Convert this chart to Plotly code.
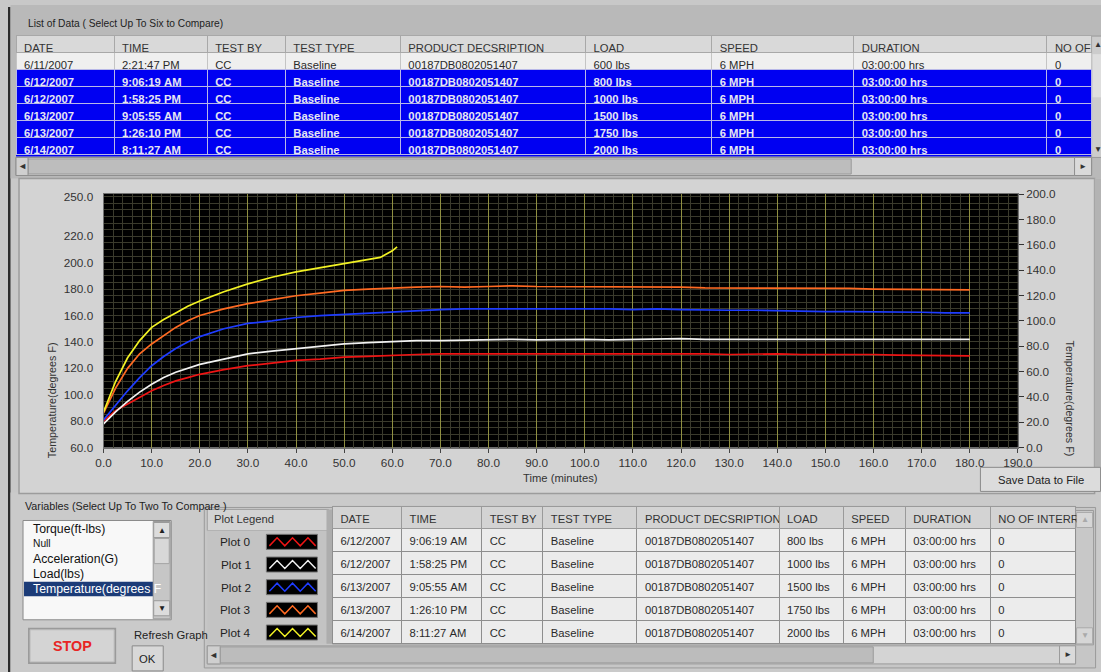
import plotly.graph_objects as go

W, H = 1101, 672          # reference picture size
S, O = 0.978, 8.0         # observed page->picture scale and offset of the photographing step
FW, FH = round((W - O) / S), round((H - O) / S)
FONT = "Liberation Sans, Arial, sans-serif"
NB = "\u00a0"

# ---------------- data ----------------
time_min = [0, 2.5, 5, 7.5, 10, 12.5, 15, 17.5, 20, 25, 30, 35, 40, 45, 50, 55, 60,
            65, 70, 75, 80, 85, 90, 95, 100, 105, 110, 115, 120, 125, 130, 135, 140,
            145, 150, 155, 160, 165, 170, 175, 180]
plot0_800lbs = [80, 88, 93, 98, 103, 107, 110.5, 113, 115.5, 119, 122, 124, 126, 127, 128.5,
                129, 130, 130.5, 131, 131, 131.5, 131, 131.5, 131, 131.5, 131, 131, 131.5, 131,
                131, 130.5, 131, 131, 130.5, 130.5, 131, 130.5, 130, 130, 130, 129.5]
plot1_1000lbs = [78, 87, 95, 102, 108, 113, 117, 120, 123, 127, 131, 133, 135, 137, 138.5,
                 139.5, 140.5, 141, 141, 141.5, 141.5, 142, 141.5, 142, 142, 141.5, 142, 142,
                 142.5, 142, 142, 142.5, 142, 142, 142.5, 142, 142, 142.5, 142, 142, 142]
plot2_1500lbs = [81, 92, 103, 113, 122, 129, 135, 140, 144, 150, 154, 156, 158.5, 160, 161,
                 162, 163, 164, 164.5, 165, 165, 165.5, 165, 165.5, 165, 165, 164.5, 165, 164.5,
                 164, 164, 164, 163.5, 163.5, 163, 163, 163, 162.5, 162.5, 162, 162]
plot3_1750lbs = [86, 105, 120, 131, 138.5, 145, 151, 156, 160, 165, 169, 172, 175, 177, 179,
                 180, 181, 181.5, 182, 181.5, 182, 182.5, 182, 182, 182, 181.5, 182, 181.5,
                 181.5, 181, 181, 181, 180.5, 181, 180.5, 180.5, 180, 180, 180, 179.5, 179.5]
time_plot4 = [0, 2.5, 5, 7.5, 10, 12.5, 15, 17.5, 20, 25, 30, 35, 40, 45, 50, 55, 57.5, 60, 61]
plot4_2000lbs = [87, 110, 128, 141, 151, 157, 162, 167, 171, 178, 184, 189, 193, 196, 199.5,
                 202, 204, 209, 212]

plot_names = ["Plot 0", "Plot 1", "Plot 2", "Plot 3", "Plot 4"]
plot_colors = ["#ee1414", "#f2f2f2", "#1e3cff", "#ff6a22", "#f2f224"]

x_ticks_step = 10
left_ticks = [60, 80, 100, 120, 140, 160, 180, 200, 220, 250]
right_ticks_step = 20

top_headers = ["DATE", "TIME", "TEST BY", "TEST TYPE", "PRODUCT DECSRIPTION", "LOAD",
               "SPEED", "DURATION", "NO OF"]
rec_dates = ["6/11/2007", "6/12/2007", "6/12/2007", "6/13/2007", "6/13/2007", "6/14/2007"]
rec_times = ["2:21:47 PM", "9:06:19 AM", "1:58:25 PM", "9:05:55 AM", "1:26:10 PM", "8:11:27 AM"]
rec_testby = ["CC", "CC", "CC", "CC", "CC", "CC"]
rec_testtype = ["Baseline"] * 6
rec_product = ["00187DB0802051407"] * 6
rec_load = ["600 lbs", "800 lbs", "1000 lbs", "1500 lbs", "1750 lbs", "2000 lbs"]
rec_speed = ["6 MPH"] * 6
rec_duration = ["03:00:00 hrs"] * 6
rec_interr = ["0"] * 6
selected_rows = [False, True, True, True, True, True]

bottom_headers = ["DATE", "TIME", "TEST BY", "TEST TYPE", "PRODUCT DECSRIPTION", "LOAD",
                  "SPEED", "DURATION", "NO OF INTERR"]
variables = ["Torque(ft-lbs)", "Null", "Acceleration(G)", "Load(lbs)", "Temperature(degrees F"]


# ---------------- helpers (picture px -> paper fraction) ----------------
def X(px):
    return ((px - O) / S) / FW


def Y(py):
    return 1 - ((py - O) / S) / FH


def F(size):
    return round(size / S, 2)


def nb(s):
    return s.replace(" ", NB)


shapes = []
annotations = []


def rect(x0, y0, x1, y1, fill, line=None, lw=1, layer="below"):
    shapes.append(dict(type="rect", xref="paper", yref="paper",
                       x0=X(x0), x1=X(x1), y0=Y(y1), y1=Y(y0),
                       fillcolor=fill, layer=layer,
                       line=dict(color=line if line else fill, width=lw if line else 0)))


def txt(x, y, s, size=11, color="#222", xa="left", ya="middle", angle=0, weight="normal"):
    annotations.append(dict(x=X(x), y=Y(y), xref="paper", yref="paper", text=s,
                            showarrow=False, xanchor=xa, yanchor=ya, textangle=angle,
                            font=dict(family=FONT, size=F(size), color=color, weight=weight)))


# ---------------- panel backgrounds ----------------
rect(8, 8, 10.5, H, "#2c2c2c")
rect(10.5, 6, W, 179, "#b9b9b9")
rect(10.5, 492, W, H, "#cacaca")
rect(19, 179, 1093, 493, "#d3d3d3", line="#9c9c9c", lw=1.5)
rect(1093, 179, W, 467, "#b3b3b3")

txt(26, 24, "List of Data ( Select Up To Six to Compare)", size=10, color="#222")

# top table backing + scrollbars
rect(16, 36, 1090, 157, "#0000f2")
rect(16, 36, 1090, 70, "#efefef")
rect(16, 158, 1090, 176, "#d2d2d2", line="#8e8e8e")
rect(28, 159.5, 850, 174.5, "#bdbdbd", line="#9a9a9a")
rect(16, 158, 28, 176, "#cfcfcf", line="#8e8e8e")
txt(22, 167, "◄", size=9, color="#333", xa="center")
rect(1073, 158, 1090, 176, "#dadada", line="#8e8e8e")
txt(1081.5, 167, "►", size=8, color="#333", xa="center")
rect(1090, 37, W, 158, "#cccccc", line="#9a9a9a")
rect(1091, 55, W, 98, "#dedede")
txt(1096, 45, "▲", size=8, color="#333", xa="center")
txt(1096, 150, "▼", size=8, color="#333", xa="center")

# chart area titles
txt(52, 400, "Temperature(degrees F)", size=10.5, color="#333", xa="center", angle=-90)
txt(1068, 398, "Temperature(degrees F)", size=10.5, color="#333", xa="center", angle=90)
txt(560, 478, "Time (minutes)", size=11, color="#333", xa="center")

# black plot background (above panel shape)
shapes.append(dict(type="rect", xref="x domain", yref="y domain", x0=0, x1=1, y0=0, y1=1,
                   fillcolor="#000000", line=dict(width=0), layer="below"))

# Save button
rect(979, 467, 1099, 491, "#dcdcdc", line="#8a8a8a")
txt(1039, 479.5, "Save Data to File", size=11, color="#222", xa="center")

# variables list box
txt(23, 506, "Variables (Select Up To Two To Compare )", size=10.5, color="#222")
rect(23, 520, 171, 619, "#f8f8f8", line="#8a8a8a")
var_y = [528, 543, 558, 573, 588]
rect(24, 581, 153, 595.5, "#1c3c78")
for i, v in enumerate(variables):
    sel = i == len(variables) - 1
    txt(31, var_y[i], v, size=10 if v == "Null" else 12,
        color="#ffffff" if sel else "#111")
rect(153, 521, 170, 618, "#c6c6c6", line="#9a9a9a")
rect(153.5, 522, 169.5, 537, "#dcdcdc", line="#9a9a9a")
txt(161.5, 529.5, "▲", size=8, color="#222", xa="center")
rect(154, 538, 169, 563, "#d8d8d8", line="#a4a4a4")
rect(153.5, 600, 169.5, 615, "#dcdcdc", line="#9a9a9a")
txt(161.5, 607.5, "▼", size=8, color="#222", xa="center")

# STOP and OK buttons
rect(28, 627, 116, 663, "#9a9a9a")
rect(30, 629, 114, 661, "#d4d4d4", line="#bcbcbc")
txt(72, 645.5, "STOP", size=14, color="#e82424", xa="center", weight="bold")
txt(132, 634, "Refresh Graph", size=11, color="#222")
rect(132, 645, 163, 670, "#d8d8d8", line="#8a8a8a")
txt(147.5, 658, "OK", size=11, color="#222", xa="center")

# bottom table frame + legend column
BT_TOP, BT_HDR, BT_ROW = 509, 21, 22.6
rect(204, 507, 1094, 667, "#c6c6c6", line="#9a9a9a")
rect(332, 506, 1074, 643, "#ececec", line="#8e8e8e")
rect(207, BT_TOP, 328, BT_TOP + BT_HDR, "#d3d3d3", line="#a0a0a0")
txt(212, BT_TOP + BT_HDR / 2 - 1, "Plot Legend", size=11, color="#333")
rect(207, BT_TOP + BT_HDR, 328, BT_TOP + BT_HDR + 5 * BT_ROW, "#c3c3c3")
rect(326, BT_TOP, 332, BT_TOP + BT_HDR + 5 * BT_ROW, "#adadad")
for i, (name, col) in enumerate(zip(plot_names, plot_colors)):
    cy = BT_TOP + BT_HDR + BT_ROW * i + BT_ROW / 2
    txt(253, cy, name, size=11.5, color="#222", xa="right")
    rect(266, cy - 7.5, 317, cy + 7.5, "#000000", line="#777777")
    xs = [269 + 7.7 * k for k in range(7)]
    pts = " L ".join(f"{X(xx):.5f},{Y(cy + (4 if k % 2 == 0 else -4)):.5f}"
                     for k, xx in enumerate(xs))
    shapes.append(dict(type="path", xref="paper", yref="paper", path="M " + pts,
                       line=dict(color=col, width=1.5), layer="below"))

# bottom table scrollbars
rect(207, 645, 1074, 663, "#d4d4d4", line="#9a9a9a")
rect(207, 645, 220, 663, "#cfcfcf", line="#9a9a9a")
txt(213.5, 654, "◄", size=9, color="#333", xa="center")
rect(220, 646, 872, 662, "#bcbcbc", line="#9a9a9a")
rect(1058, 645, 1074, 663, "#dadada", line="#9a9a9a")
txt(1066, 654, "►", size=8, color="#333", xa="center")
rect(1074, 510, 1092, 644, "#c8c8c8", line="#9a9a9a")
rect(1075, 512, 1091, 527, "#d6d6d6", line="#aaaaaa")
txt(1083, 519.5, "▲", size=8, color="#aaaaaa", xa="center")
rect(1075, 627, 1091, 643, "#d6d6d6", line="#aaaaaa")
txt(1083, 635, "▼", size=8, color="#aaaaaa", xa="center")

# ---------------- traces ----------------
fig = go.Figure()

series = [(time_min, plot0_800lbs), (time_min, plot1_1000lbs), (time_min, plot2_1500lbs),
          (time_min, plot3_1750lbs), (time_plot4, plot4_2000lbs)]
for (tx, ty), name, col in zip(series, plot_names, plot_colors):
    fig.add_trace(go.Scatter(x=tx, y=ty, mode="lines", name=name,
                             line=dict(color=col, width=1.7), showlegend=False,
                             hoverinfo="skip", xaxis="x", yaxis="y"))

fig.add_trace(go.Scatter(x=[None], y=[None], xaxis="x", yaxis="y2", showlegend=False,
                         hoverinfo="skip", mode="lines"))

# top table: header + unselected record (row heights in whole page pixels)
top_cols = [[nb(v) for v in c] for c in
            [rec_dates, rec_times, rec_testby, rec_testtype, rec_product, rec_load,
             rec_speed, rec_duration, rec_interr]]
top_w = [98, 93, 78, 115, 185, 126, 142, 193, 44]
TA, TB, THP = 36, 70, 17
unsel = [[v for v, s in zip(c, selected_rows) if not s] for c in top_cols]
sel = [[v for v, s in zip(c, selected_rows) if s] for c in top_cols]
fig.add_trace(go.Table(
    domain=dict(x=[X(16), X(1090)], y=[Y(TB), Y(TA)]),
    columnwidth=top_w,
    header=dict(values=[nb(h) for h in top_headers], fill_color="#d9d9d9",
                line=dict(color="#a8a8a8", width=1),
                font=dict(family=FONT, size=F(11), color="#333"), align="left",
                height=THP),
    cells=dict(values=unsel, fill_color="#efefef", line=dict(color="#c4c4c4", width=1),
               font=dict(family=FONT, size=F(11), color="#2a2a2a"), align="left",
               height=THP),
))
# selected (highlighted) records: first as header row, rest as cells, all bold
fig.add_trace(go.Table(
    domain=dict(x=[X(16), X(1090)], y=[Y(158), Y(TB)]),
    columnwidth=top_w,
    header=dict(values=[c[0] for c in sel], fill_color="#0000f2",
                line=dict(color="#b8b8e8", width=1),
                font=dict(family=FONT, size=F(11), color="#e6e6f4", weight="bold"),
                align="left", height=THP),
    cells=dict(values=[c[1:] for c in sel], fill_color="#0000f2",
               line=dict(color="#b8b8e8", width=1),
               font=dict(family=FONT, size=F(11), color="#e6e6f4", weight="bold"),
               align="left", height=THP),
))

# bottom table (selected records)
fig.add_trace(go.Table(
    domain=dict(x=[X(332), X(1074)], y=[Y(645), Y(506)]),
    columnwidth=[69, 80, 61, 94, 142, 64, 62, 85, 85],
    header=dict(values=[nb(h) for h in bottom_headers], fill_color="#d3d3d3",
                line=dict(color="#9a9a9a", width=1),
                font=dict(family=FONT, size=F(11), color="#333"), align="left",
                height=22),
    cells=dict(values=sel, fill_color="#ececec", line=dict(color="#8e8e8e", width=1),
               font=dict(family=FONT, size=F(11), color="#2a2a2a"), align="left",
               height=23),
))

tickfont = dict(family=FONT, size=F(11.5), color="#333")
fig.update_layout(
    width=FW, height=FH, autosize=False,
    margin=dict(l=0, r=0, t=0, b=0),
    paper_bgcolor="#c8c8c8", plot_bgcolor="#000000",
    hovermode=False, showlegend=False,
    xaxis=dict(domain=[X(103.4), X(1016.4)], range=[0, 190], tickmode="linear", tick0=0,
               dtick=x_ticks_step, tickformat=".1f", ticks="outside", ticklen=4,
               tickcolor="#444", showgrid=True, gridcolor="#8e8e40", gridwidth=1,
               minor=dict(dtick=2, tick0=0, showgrid=True, gridcolor="#3a3a2c",
                          gridwidth=1, ticks=""),
               zeroline=False, showline=True, linecolor="#707070", mirror=True,
               tickfont=tickfont, fixedrange=True),
    yaxis=dict(domain=[Y(447.3), Y(194.5)], range=[60, 252], tickmode="array",
               tickvals=left_ticks, ticktext=[f"{v:.1f}" for v in left_ticks],
               ticks="", showgrid=False, ticklabelstandoff=7,
               minor=dict(tickmode="array", tickvals=list(range(60, 255, 5)), showgrid=True,
                          gridcolor="#3a3a2c", gridwidth=1, ticks=""),
               zeroline=False, showline=True, linecolor="#707070", mirror=True,
               tickfont=tickfont, fixedrange=True),
    yaxis2=dict(overlaying="y", side="right", anchor="x", range=[0, 200], tickmode="linear",
                tick0=0, dtick=right_ticks_step, tickformat=".1f", ticks="outside", ticklen=5,
                tickcolor="#333", showgrid=False, zeroline=False, showline=False,
                tickfont=tickfont, fixedrange=True),
    shapes=shapes, annotations=annotations,
)

fig.write_html("out.html", config={"displayModeBar": False},
               post_script="document.body.style.margin='0';document.body.style.overflow='hidden';")
